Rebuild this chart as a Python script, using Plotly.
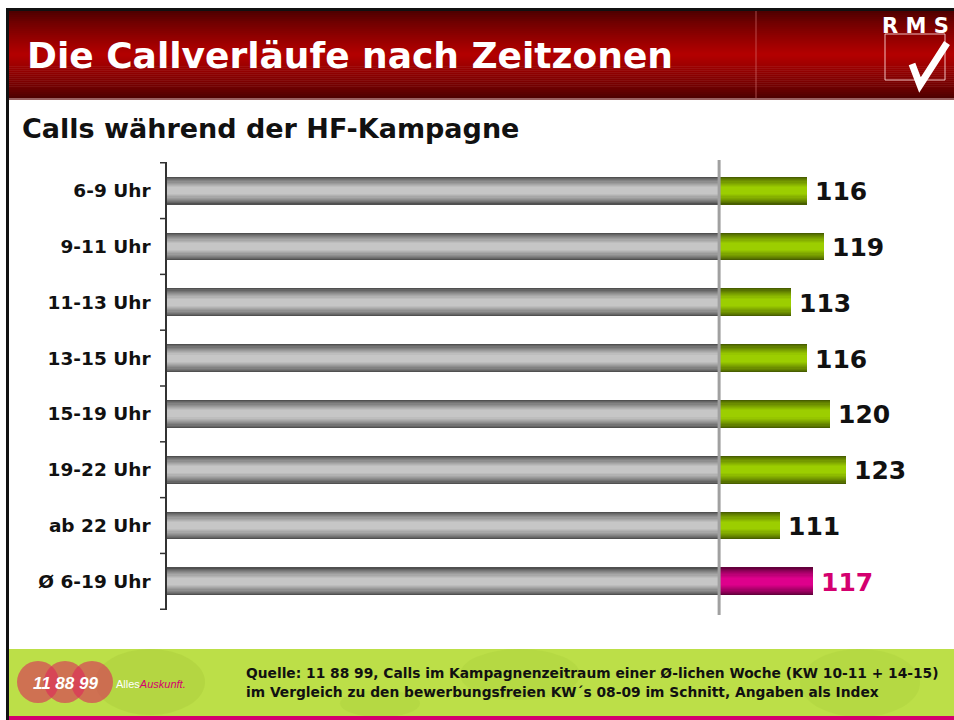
import plotly.graph_objects as go

# ---------------- data ----------------
categories = ["6-9 Uhr", "9-11 Uhr", "11-13 Uhr", "13-15 Uhr",
              "15-19 Uhr", "19-22 Uhr", "ab 22 Uhr", "Ø 6-19 Uhr"]
values = [116, 119, 113, 116, 120, 123, 111, 117]
baseline = 100
highlight = ["normal"] * 7 + ["average"]

title_text = "Die Callverläufe nach Zeitzonen"
subtitle_text = "Calls während der HF-Kampagne"
source_lines = [
    "Quelle: 11 88 99, Calls im Kampagnenzeitraum einer Ø-lichen Woche (KW 10-11 + 14-15)",
    "im Vergleich zu den bewerbungsfreien KW´s 08-09 im Schnitt, Angaben als Index",
]

# ---------------- helpers ----------------
W, H = 954, 720


def px(x):
    return x / W


def py(y):
    return 1 - y / H


def mix(c1, c2, t):
    r = [round(a + (b - a) * t) for a, b in zip(c1, c2)]
    return "rgb(%d,%d,%d)" % tuple(r)


fig = go.Figure()

# gradient ("cylinder") bars built as overlaid layers
N = 12
BAR_W = 0.5
grey_edge, grey_mid = (80, 80, 80), (198, 198, 198)
green_edge, green_mid = (72, 94, 0), (156, 206, 0)
mag_edge, mag_mid = (100, 0, 60), (222, 0, 140)

for i in range(N):
    t = i / (N - 1)
    t2 = min(1.0, (t * 1.25)) ** 0.8
    w = BAR_W * (1 - i / N)
    fig.add_trace(go.Bar(
        orientation="h", y=categories, x=[baseline] * len(categories),
        base=0, width=w,
        marker=dict(color=mix(grey_edge, grey_mid, t2), line=dict(width=0)),
        opacity=1, hoverinfo="skip", showlegend=False))
for i in range(N):
    t = i / (N - 1)
    t2 = min(1.0, (t * 1.25)) ** 0.8
    w = BAR_W * (1 - i / N)
    cols = [mix(mag_edge, mag_mid, t2) if h == "average" else mix(green_edge, green_mid, t2)
            for h in highlight]
    fig.add_trace(go.Bar(
        orientation="h", y=categories, x=[v - baseline for v in values],
        base=baseline, width=w,
        marker=dict(color=cols, line=dict(width=0)),
        opacity=1, hoverinfo="skip", showlegend=False))

# value labels
for cat, v, h in zip(categories, values, highlight):
    fig.add_annotation(
        x=v, y=cat, xref="x", yref="y", text=str(v), showarrow=False,
        xanchor="left", yanchor="middle", xshift=6, yshift=-1,
        font=dict(family="DejaVu Sans", size=25, weight="bold",
                  color="#d4006f" if h == "average" else "#111111"))

shapes = []
annotations = []

# header gradient band
top, bot = 11, 98
steps = 44
for k in range(steps):
    y0 = top + (bot - top) * k / steps
    y1 = top + (bot - top) * (k + 1) / steps
    t = (k + 0.5) / steps
    d = 1 - abs(t - 0.5) * 2  # 0 at edges, 1 in middle
    col = mix((75, 0, 0), (180, 0, 0), d ** 0.8)
    shapes.append(dict(type="rect", xref="paper", yref="paper",
                       x0=px(8), x1=px(954), y0=py(y1 + 0.5), y1=py(y0),
                       fillcolor=col, line=dict(width=0), layer="below"))
# header borders
shapes.append(dict(type="rect", xref="paper", yref="paper", x0=px(8), x1=px(954),
                   y0=py(11), y1=py(8), fillcolor="#111111", line=dict(width=0)))
shapes.append(dict(type="rect", xref="paper", yref="paper", x0=px(8), x1=px(954),
                   y0=py(100), y1=py(98), fillcolor="#9a6060", line=dict(width=0)))
shapes.append(dict(type="line", xref="paper", yref="paper", x0=px(756), x1=px(756),
                   y0=py(98), y1=py(11), line=dict(color="rgba(220,120,120,0.6)", width=1)))
# left slide border
shapes.append(dict(type="rect", xref="paper", yref="paper", x0=px(6), x1=px(9),
                   y0=py(720), y1=py(8), fillcolor="#111111", line=dict(width=0)))

# RMS logo
shapes.append(dict(type="rect", xref="paper", yref="paper", x0=px(885), x1=px(945),
                   y0=py(80), y1=py(34), line=dict(color="rgba(255,220,220,0.85)", width=1)))
shapes.append(dict(type="path", xref="paper", yref="paper",
                   path="M %f %f L %f %f L %f %f" % (px(912), py(64), px(920), py(85), px(947), py(43)),
                   line=dict(color="white", width=7)))
annotations.append(dict(x=px(915), y=py(26), xref="paper", yref="paper", text="R M S",
                        showarrow=False, xanchor="center", yanchor="middle",
                        font=dict(family="DejaVu Sans", size=21, weight="bold", color="white")))

# title
annotations.append(dict(x=px(25), y=py(56), xref="paper", yref="paper", text=title_text,
                        showarrow=False, xanchor="left", yanchor="middle",
                        font=dict(family="DejaVu Sans", size=36, weight="bold", color="white")))
# subtitle
annotations.append(dict(x=px(20), y=py(128), xref="paper", yref="paper", text=subtitle_text,
                        showarrow=False, xanchor="left", yanchor="middle",
                        font=dict(family="DejaVu Sans", size=27, weight="bold", color="#111111")))

# reference line at 100
shapes.append(dict(type="line", xref="x", yref="paper", x0=baseline, x1=baseline,
                   y0=py(615), y1=py(160), line=dict(color="#a0a0a0", width=3), layer="above"))

# category boundary ticks on the left axis
for b in range(len(categories) + 1):
    shapes.append(dict(type="line", xref="paper", yref="y", x0=px(160), x1=px(167),
                       y0=b - 0.5, y1=b - 0.5, line=dict(color="#333333", width=1.5)))

# footer band
shapes.append(dict(type="rect", xref="paper", yref="paper", x0=px(9), x1=px(954),
                   y0=py(717), y1=py(649), fillcolor="#bcdf48", line=dict(width=0), layer="below"))
for cx, cy, r, col in [(150, 660, 55, "rgba(170,205,60,0.45)"),
                       (520, 640, 60, "rgba(170,205,60,0.35)"),
                       (860, 680, 60, "rgba(170,205,60,0.35)"),
                       (380, 730, 40, "rgba(170,205,60,0.35)")]:
    shapes.append(dict(type="circle", xref="paper", yref="paper",
                       x0=px(cx - r), x1=px(cx + r), y0=py(min(cy + r, 717)), y1=py(max(cy - r, 649)),
                       fillcolor=col, line=dict(width=0), layer="below"))
shapes.append(dict(type="rect", xref="paper", yref="paper", x0=px(9), x1=px(954),
                   y0=py(720), y1=py(716), fillcolor="#d4006f", line=dict(width=0)))

# 11 88 99 logo circles
for cx in (38, 65, 92):
    r = 21
    shapes.append(dict(type="circle", xref="paper", yref="paper",
                       x0=px(cx - r), x1=px(cx + r), y0=py(682 + r), y1=py(682 - r),
                       fillcolor="rgba(220,40,90,0.6)", line=dict(width=0)))
annotations.append(dict(x=px(65), y=py(683), xref="paper", yref="paper", text="<i>11 88 99</i>",
                        showarrow=False, xanchor="center", yanchor="middle",
                        font=dict(family="Liberation Sans", size=17, weight="bold", color="white")))
annotations.append(dict(x=px(114), y=py(684), xref="paper", yref="paper",
                        text="Alles<i><span style='color:#d4006f'>Auskunft.</span></i>",
                        showarrow=False, xanchor="left", yanchor="middle",
                        font=dict(family="Liberation Sans", size=11, color="white")))

# source text
for k, line in enumerate(source_lines):
    annotations.append(dict(x=px(244), y=py(673 + 19 * k), xref="paper", yref="paper", text=line,
                            showarrow=False, xanchor="left", yanchor="middle",
                            font=dict(family="DejaVu Sans", size=13.8, weight="bold", color="#111111")))

fig.update_layout(
    width=W, height=H, margin=dict(l=0, r=0, t=0, b=0),
    paper_bgcolor="white", plot_bgcolor="rgba(0,0,0,0)",
    barmode="overlay", bargap=0, showlegend=False,
    shapes=shapes,
    xaxis=dict(domain=[px(167), px(951)], range=[0, 142], visible=False, fixedrange=True),
    yaxis=dict(domain=[py(610), py(162)], type="category",
               categoryorder="array", categoryarray=categories, autorange="reversed",
               showline=True, linecolor="#333333", linewidth=1.5,
               ticks="", ticklabelstandoff=11, showgrid=False, zeroline=False, fixedrange=True,
               tickfont=dict(family="DejaVu Sans", size=18.5, weight="bold", color="#111111")),
)
for a in annotations:
    fig.add_annotation(**a)

fig.write_html("out.html", config={"displayModeBar": False},
               post_script="document.body.style.margin='0';")
